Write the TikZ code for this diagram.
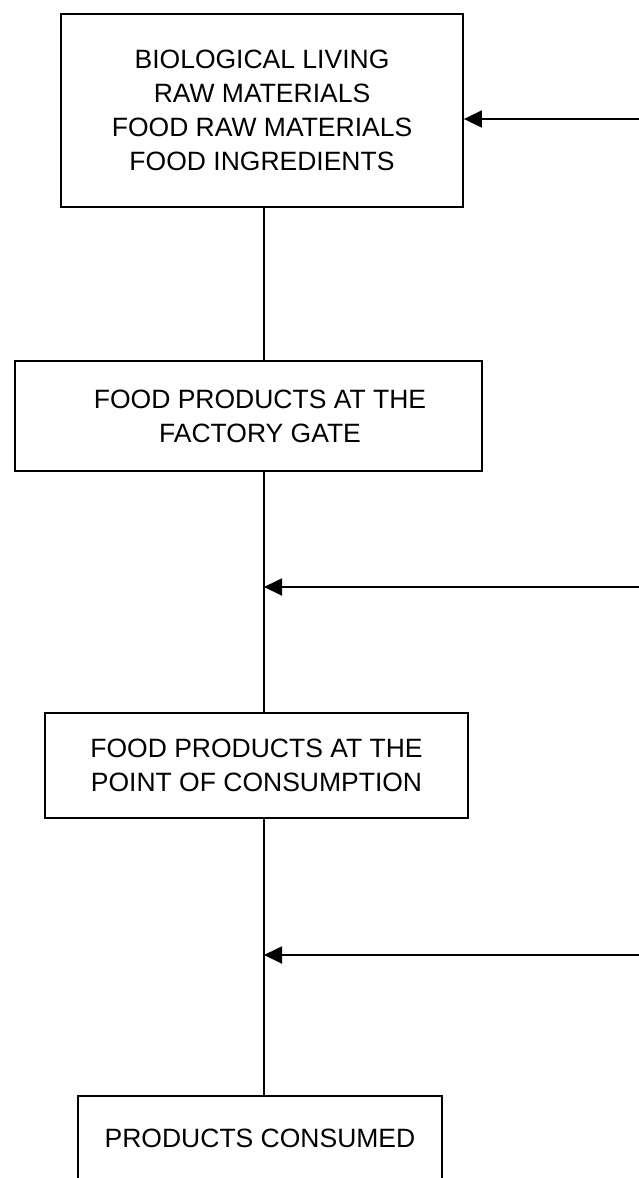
\documentclass[tikz,border=0pt]{standalone}
\usepackage{fontspec}
\setmainfont{Liberation Sans}
\usetikzlibrary{arrows.meta}
\tikzset{
  stage/.style={draw, line width=1.8pt, align=center, inner sep=0pt,
    font=\fontsize{26.5}{34}\selectfont},
  link/.style={line width=1.4pt},
  feed/.style={line width=1.8pt, -{Triangle[length=18pt,width=17pt]}, shorten >=0pt}
}
\begin{document}
\begin{tikzpicture}[x=1pt,y=-1pt]
\clip (0,0) rectangle (639,1178);
\fill[white] (0,0) rectangle (639,1178);
\coordinate (axis) at (264,0);
\node[stage, minimum width=402pt, minimum height=193pt] (b1) at (262,110.5)
  {BIOLOGICAL LIVING\\RAW MATERIALS\\FOOD RAW MATERIALS\\FOOD INGREDIENTS};
\node[stage, minimum width=467pt, minimum height=110pt] (b2) at (248.5,416)
  {\hspace*{23pt}FOOD PRODUCTS AT THE\\\hspace*{23pt}FACTORY GATE};
\node[stage, minimum width=423pt, minimum height=105pt] (b3) at (256.5,765.5)
  {FOOD PRODUCTS AT THE\\POINT OF CONSUMPTION};
\node[stage, minimum width=364pt, minimum height=84pt] (b4) at (260,1138)
  {PRODUCTS CONSUMED};
\draw[link] (axis |- b1.south) -- (axis |- b2.north);
\draw[link] (axis |- b2.south) -- (axis |- b3.north);
\draw[link] (axis |- b3.south) -- (axis |- b4.north);
\coordinate (s1) at (639,119);
\coordinate (s2) at (639,587);
\coordinate (s3) at (639,955);
\draw[feed] (s1) -- (s1 -| b1.east);
\draw[feed] (s2) -- (s2 -| axis);
\draw[feed] (s3) -- (s3 -| axis);
\end{tikzpicture}
\end{document}
